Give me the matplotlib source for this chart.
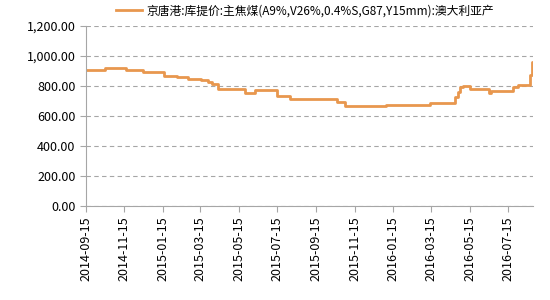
import matplotlib
matplotlib.use('Agg')
import matplotlib.pyplot as plt
import matplotlib.dates as mdates
import numpy as np
import pandas as pd

plt.rcParams['font.family'] = ['Noto Sans CJK SC', 'DejaVu Sans']

series_name = '京唐港:库提价:主焦煤(A9%,V26%,0.4%S,G87,Y15mm):澳大利亚产'

# 价格变动日期及对应价格（阶梯）
change_dates = ['2014-09-15', '2014-10-16', '2014-11-18', '2014-12-14', '2015-01-17',
                '2015-02-07', '2015-02-24', '2015-03-17', '2015-03-27', '2015-04-03',
                '2015-04-12', '2015-05-25', '2015-06-10', '2015-07-15', '2015-08-04',
                '2015-10-18', '2015-10-30', '2016-01-03', '2016-03-13', '2016-04-22',
                '2016-04-26', '2016-04-30', '2016-05-05', '2016-05-16', '2016-06-14',
                '2016-06-17', '2016-07-23', '2016-07-30', '2016-08-18', '2016-08-21',
                '2016-08-23']
prices = [907, 918, 907, 896, 869,
          862, 849, 840, 830, 815,
          780, 756, 773, 733, 711,
          691, 664, 673, 684, 729,
          760, 791, 802, 778, 756,
          769, 791, 807, 873, 962,
          962]

tick_dates = ['2014-09-15', '2014-11-15', '2015-01-15', '2015-03-15', '2015-05-15', '2015-07-15',
              '2015-09-15', '2015-11-15', '2016-01-15', '2016-03-15', '2016-05-15', '2016-07-15']

x = pd.to_datetime(change_dates)
ticks = pd.to_datetime(tick_dates)

fig = plt.figure(figsize=(5.5, 3.0), dpi=100)
ax = fig.add_axes([0.156, 0.313, 0.813, 0.6])

ax.plot(x, prices, drawstyle='steps-post', color='#E8974E', linewidth=2, label=series_name)

ax.set_ylim(0, 1200)
ax.set_yticks(np.arange(0, 1201, 200))
ax.yaxis.set_major_formatter(matplotlib.ticker.FuncFormatter(lambda v, p: '{:,.2f}'.format(v)))
ax.set_xlim(x[0], x[-1])
ax.set_xticks(ticks)
ax.xaxis.set_major_formatter(mdates.DateFormatter('%Y-%m-%d'))
plt.setp(ax.get_xticklabels(), rotation=90)

ax.grid(True, axis='y', linestyle=(0, (4, 3)), color='#A6A6A6', linewidth=0.8)
ax.set_axisbelow(True)
for s in ['top', 'right']:
    ax.spines[s].set_visible(False)
for s in ['left', 'bottom']:
    ax.spines[s].set_color('#A6A6A6')
ax.tick_params(axis='both', labelsize=9, color='#A6A6A6', length=4)

ax.legend(loc='lower center', bbox_to_anchor=(0.49, 1.01), frameon=False, fontsize=8.5,
          handlelength=2.2, handletextpad=0.4, borderpad=0.1)

fig.savefig('out.png', dpi=100)
